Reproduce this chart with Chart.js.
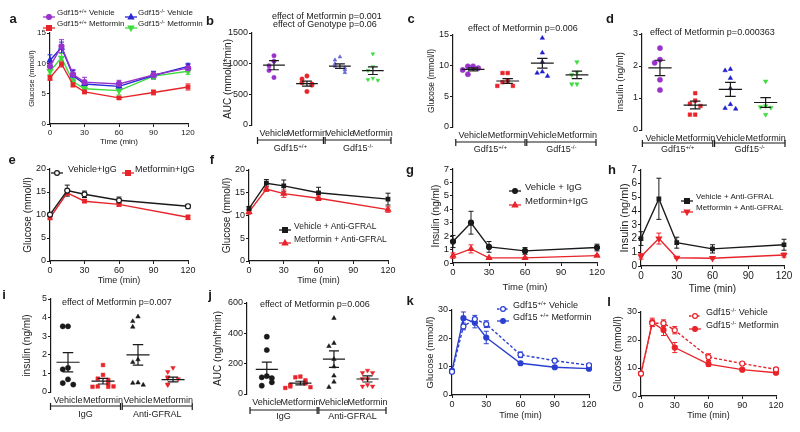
<!DOCTYPE html>
<html>
<head>
<meta charset="utf-8">
<script src="https://cdn.jsdelivr.net/npm/chart.js@4.4.1/dist/chart.umd.min.js"></script>
<style>
  body { margin: 0; width: 800px; height: 432px; position: relative; overflow: hidden; background: #fff;
         font-family: "Liberation Sans", Arial, sans-serif; color: #1a1a1a; }
  canvas { position: absolute; left: 0; top: 0; }
  .t { position: absolute; white-space: nowrap; line-height: 1; }
  sup { font-size: 68%; vertical-align: 0; position: relative; top: -0.45em; line-height: 0; }
</style>
</head>
<body>
<script>
// ---- data ----
// a: glucose tolerance, Gdf15 genotypes +/- metformin
const aTime = [0, 10, 20, 30, 60, 90, 120];
const aWtVeh = [9.5, 12.8, 8.2, 6.9, 6.6, 8.1, 9.2];
const aWtVehSem = [0.6, 1.1, 0.8, 0.8, 0.6, 0.6, 0.6];
const aWtMet = [7.6, 9.9, 6.5, 5.3, 4.3, 5.2, 6.1];
const aWtMetSem = [0.4, 0.5, 0.4, 0.3, 0.2, 0.4, 0.5];
const aKoVeh = [10.5, 12.6, 8.0, 6.6, 6.2, 8.0, 9.5];
const aKoVehSem = [0.9, 0.9, 0.8, 0.5, 0.6, 0.6, 0.5];
const aKoMet = [8.7, 10.9, 7.0, 5.8, 5.5, 7.9, 8.7];
const aKoMetSem = [0.5, 0.7, 0.5, 0.4, 0.7, 0.5, 0.5];

// b, c, d: dot plots by genotype
const gdfCats = ['Vehicle', 'Metformin', 'Vehicle', 'Metformin'];
const gdfGroups = ['Gdf15<sup>+/+</sup>', 'Gdf15<sup>-/-</sup>'];
const bWtVeh = [1130, 1040, 965, 890, 775];
const bWtMet = [800, 750, 690, 670, 650, 545];
const bKoVeh = [1110, 1060, 1000, 960, 930, 900, 855];
const bKoMet = [1160, 950, 890, 760, 740, 730];
const bMean = [976, 675, 960, 885];
const bSem = [75, 40, 38, 62];

const cWtVeh = [9.9, 9.9, 9.6, 9.3, 8.6];
const cWtMet = [8.8, 8.8, 7.5, 7.3, 6.7, 6.7];
const cKoVeh = [14.5, 12.1, 10.6, 9.0, 8.8, 8.3];
const cKoMet = [10.6, 8.9, 8.5, 7.0, 7.0];
const cMean = [9.4, 7.5, 10.4, 8.5];
const cSem = [0.25, 0.4, 0.8, 0.6];

const dWtVeh = [2.56, 2.2, 2.1, 1.57, 1.25];
const dWtMet = [1.15, 0.92, 0.82, 0.75, 0.48, 0.48];
const dKoVeh = [1.9, 1.86, 1.62, 1.3, 0.8, 0.68, 0.66];
const dKoMet = [1.52, 0.75, 0.72, 0.7, 0.48];
const dMean = [1.94, 0.78, 1.27, 0.86];
const dSem = [0.24, 0.12, 0.22, 0.15];

// e-h: time courses with IgG / anti-GFRAL
const ghTime = [0, 15, 30, 60, 120];
const eVeh = [10.1, 15.3, 14.5, 13.2, 11.9];
const eVehSem = [0.3, 1.2, 0.7, 0.7, 0.4];
const eMet = [9.4, 14.8, 13.0, 12.3, 9.5];
const eMetSem = [0.3, 0.5, 0.3, 0.4, 0.5];
const fVeh = [11.5, 17.1, 16.5, 15.0, 13.6];
const fVehSem = [0.5, 0.8, 1.3, 1.2, 1.3];
const fMet = [10.8, 15.8, 14.8, 13.8, 11.3];
const fMetSem = [0.5, 0.5, 0.8, 0.5, 0.6];
const gVeh = [1.6, 3.0, 1.2, 0.9, 1.15];
const gVehSem = [0.45, 0.85, 0.4, 0.25, 0.25];
const gMet = [0.55, 1.05, 0.38, 0.38, 0.55];
const gMetSem = [0.2, 0.3, 0.05, 0.05, 0.05];
const hVeh = [2.0, 4.9, 1.7, 1.25, 1.55];
const hVehSem = [0.5, 1.5, 0.4, 0.3, 0.4];
const hMet = [0.7, 2.0, 0.6, 0.57, 0.8];
const hMetSem = [0.2, 0.4, 0.05, 0.05, 0.15];

// i, j: dot plots by antibody
const iggCats = ['Vehicle', 'Metformin', 'Vehicle', 'Metformin'];
const iggGroups = ['IgG', 'Anti-GFRAL'];
const iIgVeh = [3.53, 3.53, 1.3, 1.22, 0.68, 0.48, 0.4];
const iIgMet = [1.45, 0.92, 0.72, 0.65, 0.45, 0.3, 0.28, 0.28, 0.3];
const iAgVeh = [4.05, 3.8, 3.5, 1.75, 1.6, 0.5, 0.48, 0.38];
const iAgMet = [1.3, 1.08, 0.8, 0.75, 0.7, 0.42, 0.38];
const iMean = [1.6, 0.58, 2.0, 0.67];
const iSem = [0.52, 0.15, 0.55, 0.13];
const jIgVeh = [378, 290, 118, 110, 105, 77, 55];
const jIgMet = [115, 110, 90, 75, 70, 60, 50, 45, 40];
const jAgVeh = [500, 335, 315, 230, 180, 120, 80, 45];
const jAgMet = [155, 140, 140, 100, 100, 60, 50, 50];
const jMean = [162, 72, 230, 99];
const jSem = [48, 12, 55, 20];

// k, l: glucose tolerance, second cohort
const klTime = [0, 10, 20, 30, 60, 90, 120];
const kVeh = [8.2, 24.2, 26.8, 25.0, 14.2, 12.1, 10.5];
const kVehSem = [0.5, 1.2, 1.3, 1.2, 1.0, 0.6, 0.6];
const kMet = [8.5, 27.1, 25.5, 20.3, 11.2, 9.8, 9.3];
const kMetSem = [0.6, 2.2, 1.8, 2.2, 0.5, 0.4, 0.5];
const lVeh = [8.0, 26.0, 26.0, 23.5, 13.9, 11.6, 9.5];
const lVehSem = [0.4, 1.2, 1.2, 1.3, 1.2, 0.5, 0.5];
const lMet = [8.0, 26.3, 23.6, 17.3, 11.4, 9.4, 8.3];
const lMetSem = [0.4, 1.5, 2.0, 1.8, 0.8, 0.4, 0.4];

// ---- styles ----
const ink = '#1a1a1a';
const purple = '#9932cc', red = '#e8242b', blue = '#2929d6', green = '#3ddc3d';
const lightBlue = '#6666d8', kBlue = '#2b3fd0';

Chart.defaults.font.family = '"Liberation Sans", Arial, sans-serif';
Chart.defaults.color = ink;

// error bars on time courses
const errorBars = {
  id: 'errorBars',
  beforeDatasetsDraw(chart) {
    const ctx = chart.ctx, ys = chart.scales.y;
    chart.data.datasets.forEach((ds, i) => {
      if (!ds.errors) return;
      const meta = chart.getDatasetMeta(i);
      ctx.save();
      ctx.strokeStyle = ds.borderColor;
      ctx.lineWidth = 1;
      meta.data.forEach((pt, j) => {
        const v = ds.data[j].y, e = ds.errors[j];
        const y1 = ys.getPixelForValue(v + e), y2 = ys.getPixelForValue(v - e);
        ctx.beginPath();
        ctx.moveTo(pt.x, y1); ctx.lineTo(pt.x, y2);
        ctx.moveTo(pt.x - 2.5, y1); ctx.lineTo(pt.x + 2.5, y1);
        ctx.moveTo(pt.x - 2.5, y2); ctx.lineTo(pt.x + 2.5, y2);
        ctx.stroke();
      });
      ctx.restore();
    });
  }
};

// mean +/- SEM on dot plots
const meanSem = {
  id: 'meanSem',
  afterDatasetsDraw(chart) {
    const ctx = chart.ctx, xs = chart.scales.x, ys = chart.scales.y;
    chart.data.datasets.forEach(ds => {
      if (ds.mean === undefined) return;
      const px = v => xs.getPixelForValue(ds.group + v);
      const m = ys.getPixelForValue(ds.mean);
      const hi = ys.getPixelForValue(ds.mean + ds.sem), lo = ys.getPixelForValue(ds.mean - ds.sem);
      ctx.save();
      ctx.strokeStyle = ink;
      ctx.lineWidth = 1.2;
      ctx.beginPath();
      ctx.moveTo(px(-0.33), m); ctx.lineTo(px(0.33), m);
      ctx.moveTo(px(0), hi); ctx.lineTo(px(0), lo);
      ctx.moveTo(px(-0.15), hi); ctx.lineTo(px(0.15), hi);
      ctx.moveTo(px(-0.15), lo); ctx.lineTo(px(0.15), lo);
      ctx.stroke();
      ctx.restore();
    });
  }
};

// group brackets under the category labels
const brackets = {
  id: 'brackets',
  afterDraw(chart, args, opts) {
    if (!opts || !opts.spans) return;
    const ctx = chart.ctx, xs = chart.scales.x;
    const y = chart.chartArea.bottom + opts.offset;
    ctx.save();
    ctx.strokeStyle = ink;
    ctx.lineWidth = 1.2;
    opts.spans.forEach(([a, b]) => {
      const x1 = xs.getPixelForValue(a), x2 = xs.getPixelForValue(b);
      ctx.beginPath();
      ctx.moveTo(x1, y); ctx.lineTo(x2, y);
      ctx.moveTo(x1, y - 3); ctx.lineTo(x1, y + 4);
      ctx.moveTo(x2, y - 3); ctx.lineTo(x2, y + 4);
      ctx.stroke();
    });
    ctx.restore();
  }
};
Chart.register(errorBars, meanSem, brackets);

// ---- helpers ----
function txt(html, x, y, o = {}) {
  const d = document.createElement('div');
  d.className = 't';
  d.innerHTML = html;
  d.style.left = x + 'px';
  d.style.top = y + 'px';
  d.style.fontSize = (o.size || 9) + 'px';
  if (o.bold) d.style.fontWeight = 'bold';
  d.style.transform = o.center ? 'translate(-50%,-50%)' : 'translate(0,-50%)';
  document.body.appendChild(d);
}

function marker(shape, color, open, cx, cy, r) {
  const st = `fill="${open ? '#fff' : color}" stroke="${color}" stroke-width="1.2"`;
  if (shape === 'circle') return `<circle cx="${cx}" cy="${cy}" r="${r}" ${st}/>`;
  if (shape === 'rect') return `<rect x="${cx - r}" y="${cy - r}" width="${2 * r}" height="${2 * r}" ${st}/>`;
  if (shape === 'tri') return `<polygon points="${cx},${cy - r * 1.2} ${cx + r * 1.1},${cy + r * 0.8} ${cx - r * 1.1},${cy + r * 0.8}" ${st}/>`;
  return `<polygon points="${cx},${cy + r * 1.2} ${cx + r * 1.1},${cy - r * 0.8} ${cx - r * 1.1},${cy - r * 0.8}" ${st}/>`;
}

function key(x, y, s, html, size, tx) {
  const h = 6;
  const d = document.createElement('div');
  d.style.cssText = `position:absolute;left:${x - h - 1}px;top:${y - 5}px;width:${2 * h + 2}px;height:10px`;
  d.innerHTML = `<svg width="${2 * h + 2}" height="10"><line x1="1" y1="5" x2="${2 * h + 1}" y2="5" stroke="${s.color}" stroke-width="1.3"${s.dash ? ' stroke-dasharray="2.5,1.5"' : ''}/>${marker(s.shape, s.color, s.open, h + 1, 5, 2.4)}</svg>`;
  document.body.appendChild(d);
  txt(html, tx, y, { size: size });
}

function newCanvas() {
  const c = document.createElement('canvas');
  c.width = 800; c.height = 432;
  c.style.width = '800px'; c.style.height = '432px';
  document.body.appendChild(c);
  return c;
}

function geo(o) {
  o.fs = o.fs || 9;
  o.ts = o.ts || o.fs;
  o.yW = o.L - o.yTitleX + o.ts * 0.6;
  o.xH = o.xTitleY ? o.xTitleY - o.B + o.fs * 0.6 : 16;
  return o;
}

const axisGrid = { drawOnChartArea: false, drawTicks: true, tickLength: 3, color: ink, lineWidth: 1 };
const axisBorder = { display: true, color: ink, width: 1.2 };

function yAxis(g, max, step, title) {
  return {
    min: 0, max: max,
    ticks: { stepSize: step, autoSkip: false, font: { size: g.fs }, color: ink, padding: 1, callback: v => String(v) },
    grid: axisGrid, border: axisBorder,
    title: { display: true, text: title, font: { size: g.ts }, color: ink, padding: 0 },
    afterFit: s => { s.width = g.yW; }
  };
}

function baseOptions(g, scales, br) {
  return {
    responsive: false, animation: false, events: [],
    layout: { autoPadding: false, padding: { left: g.L - g.yW, top: g.T, right: 800 - g.R, bottom: 432 - g.B - g.xH } },
    plugins: { legend: { display: false }, tooltip: { enabled: false }, brackets: br || {} },
    scales: scales
  };
}

const ptStyle = s => (s.shape === 'tri' || s.shape === 'inv') ? 'triangle' : s.shape;

function linePanel(g, times, series, yMax, yStep, yTitle) {
  new Chart(newCanvas(), {
    type: 'line',
    data: {
      datasets: series.map(s => ({
        data: times.map((t, i) => ({ x: t, y: s.v[i] })),
        errors: s.err,
        borderColor: s.color, borderWidth: 1.4, borderDash: s.dash ? [3, 2] : [],
        pointStyle: ptStyle(s), pointRotation: s.shape === 'inv' ? 180 : 0,
        pointRadius: s.shape === 'tri' || s.shape === 'inv' ? 3 : 2.5,
        pointBackgroundColor: s.open ? '#fff' : s.color, pointBorderColor: s.color, pointBorderWidth: 1.2,
        tension: 0, clip: false
      }))
    },
    options: baseOptions(g, {
      x: {
        type: 'linear', min: 0, max: 120,
        ticks: { stepSize: 30, autoSkip: false, font: { size: g.fs }, color: ink, padding: 1 },
        grid: axisGrid, border: axisBorder,
        title: { display: true, text: 'Time (min)', font: { size: g.fs }, color: ink, padding: 0 },
        afterFit: s => { s.height = g.xH; }
      },
      y: yAxis(g, yMax, yStep, yTitle)
    })
  });
}

// spread points of similar value sideways, like a dot plot
function swarm(values, range, group) {
  const placed = [];
  return values.map(v => {
    const near = placed.filter(p => Math.abs(p - v) < range * 0.06).length;
    placed.push(v);
    const k = [0, -1, 1, -2, 2, -3, 3][near] || 0;
    return { x: group + k * 0.15, y: v };
  });
}

function dotPanel(g, cats, groupNames, sets, yMax, yStep, yTitle, br) {
  const chart = new Chart(newCanvas(), {
    type: 'scatter',
    data: {
      datasets: sets.map((s, i) => ({
        data: swarm(s.v, yMax, i + 1),
        group: i + 1, mean: s.mean, sem: s.sem,
        pointStyle: ptStyle(s), pointRotation: s.shape === 'inv' ? 180 : 0,
        pointRadius: g.r || 2.6, pointBackgroundColor: s.color, pointBorderColor: s.color,
        pointBorderWidth: 0.5, clip: false
      }))
    },
    options: baseOptions(g, {
      x: {
        type: 'linear', min: g.xMin, max: g.xMax,
        afterBuildTicks: s => { s.ticks = cats.map((_, i) => ({ value: i + 1 })); },
        ticks: { autoSkip: false, maxRotation: 0, minRotation: 0, padding: 3, font: { size: g.fs }, color: ink,
                 callback: (v, i) => cats[i] },
        grid: { display: false, drawTicks: false, tickLength: 0 }, border: { display: false },
        afterFit: s => { s.height = g.xH; }
      },
      y: yAxis(g, yMax, yStep, yTitle)
    }, { spans: [[0.5, 2.5], [2.55, 4.55]], offset: br.offset })
  });
  const xs = chart.scales.x;
  txt(groupNames[0], xs.getPixelForValue(1.5), g.B + br.label, { center: true, size: g.fs });
  txt(groupNames[1], xs.getPixelForValue(3.55), g.B + br.label, { center: true, size: g.fs });
}

// ---- panel a ----
const sWtVeh = { color: purple, shape: 'circle' };
const sWtMet = { color: red, shape: 'rect' };
const sKoVeh = { color: blue, shape: 'tri' };
const sKoMet = { color: green, shape: 'inv' };
linePanel(geo({ L: 50, R: 188, T: 33, B: 124, yTitleX: 32, xTitleY: 142, fs: 8, ts: 7.5 }), aTime, [
  Object.assign({ v: aWtVeh, err: aWtVehSem }, sWtVeh),
  Object.assign({ v: aWtMet, err: aWtMetSem }, sWtMet),
  Object.assign({ v: aKoVeh, err: aKoVehSem }, sKoVeh),
  Object.assign({ v: aKoMet, err: aKoMetSem }, sKoMet)
], 15, 5, 'Glucose (mmol/l)');
key(49, 13, sWtVeh, 'Gdf15<sup>+/+</sup> Vehicle', 8, 57);
key(49, 24, sWtMet, 'Gdf15<sup>+/+</sup> Metformin', 8, 57);
key(131, 13, sKoVeh, 'Gdf15<sup>-/-</sup> Vehicle', 8, 138);
key(131, 24, sKoMet, 'Gdf15<sup>-/-</sup> Metformin', 8, 138);

// ---- panels b, c, d ----
dotPanel(geo({ L: 252, R: 391, T: 33, B: 125, yTitleX: 228, ts: 10, xMin: 0.333, xMax: 4.55, r: 2.2 }), gdfCats, gdfGroups, [
  { v: bWtVeh, mean: bMean[0], sem: bSem[0], color: purple, shape: 'circle' },
  { v: bWtMet, mean: bMean[1], sem: bSem[1], color: red, shape: 'circle' },
  { v: bKoVeh, mean: bMean[2], sem: bSem[2], color: lightBlue, shape: 'tri' },
  { v: bKoMet, mean: bMean[3], sem: bSem[3], color: green, shape: 'inv' }
], 1500, 500, 'AUC (mmol/l*min)', { offset: 15, label: 23 });
txt('effect of Metformin p=0.001', 272, 16);
txt('effect of Genotype p=0.06', 273, 24);

dotPanel(geo({ L: 453, R: 596, T: 35, B: 127, yTitleX: 432, ts: 8.5, xMin: 0.42, xMax: 4.55 }), gdfCats, gdfGroups, [
  { v: cWtVeh, mean: cMean[0], sem: cSem[0], color: purple, shape: 'circle' },
  { v: cWtMet, mean: cMean[1], sem: cSem[1], color: red, shape: 'rect' },
  { v: cKoVeh, mean: cMean[2], sem: cSem[2], color: '#1f1fcf', shape: 'tri' },
  { v: cKoMet, mean: cMean[3], sem: cSem[3], color: green, shape: 'inv' }
], 15, 5, 'Glucose (mmol/l)', { offset: 15, label: 22 });
txt('effect of Metformin p=0.006', 468, 28);

dotPanel(geo({ L: 642, R: 785, T: 34, B: 130, yTitleX: 620, ts: 9.5, xMin: 0.49, xMax: 4.55 }), gdfCats, gdfGroups, [
  { v: dWtVeh, mean: dMean[0], sem: dSem[0], color: purple, shape: 'circle' },
  { v: dWtMet, mean: dMean[1], sem: dSem[1], color: red, shape: 'rect' },
  { v: dKoVeh, mean: dMean[2], sem: dSem[2], color: '#1f1fcf', shape: 'tri' },
  { v: dKoMet, mean: dMean[3], sem: dSem[3], color: green, shape: 'inv' }
], 3, 1, 'Insulin (ng/ml)', { offset: 13, label: 19 });
txt('effect of Metformin p=0.000363', 650, 32);

// ---- panels e-h ----
const sEVeh = { color: ink, shape: 'circle', open: true };
const sEMet = { color: red, shape: 'rect' };
linePanel(geo({ L: 50, R: 188, T: 169, B: 261, yTitleX: 28, xTitleY: 281, ts: 10 }), ghTime, [
  Object.assign({ v: eVeh, err: eVehSem }, sEVeh),
  Object.assign({ v: eMet, err: eMetSem }, sEMet)
], 20, 5, 'Glucose (mmol/l)');
key(57, 169, sEVeh, 'Vehicle+IgG', 9, 68);
key(128, 169, sEMet, 'Metformin+IgG', 9, 135);

const sFVeh = { color: ink, shape: 'rect' };
const sFMet = { color: red, shape: 'tri' };
linePanel(geo({ L: 249, R: 388, T: 170, B: 261, yTitleX: 227, xTitleY: 281, ts: 10 }), ghTime, [
  Object.assign({ v: fVeh, err: fVehSem }, sFVeh),
  Object.assign({ v: fMet, err: fMetSem }, sFMet)
], 20, 5, 'Glucose (mmol/l)');
key(285, 226, sFVeh, 'Vehicle + Anti-GFRAL', 8.5, 294);
key(285, 239, sFMet, 'Metformin + Anti-GFRAL', 8.5, 294);

const sGVeh = { color: ink, shape: 'circle' };
const sGMet = { color: red, shape: 'tri' };
linePanel(geo({ L: 453, R: 597, T: 169, B: 263, yTitleX: 436, xTitleY: 287, fs: 9.5, ts: 10 }), ghTime, [
  Object.assign({ v: gVeh, err: gVehSem }, sGVeh),
  Object.assign({ v: gMet, err: gMetSem }, sGMet)
], 7, 1, 'Insulin (ng/ml)');
key(515, 187, sGVeh, 'Vehicle + IgG', 9.5, 525);
key(515, 201, sGMet, 'Metformin+IgG', 9.5, 525);

const sHVeh = { color: ink, shape: 'rect' };
const sHMet = { color: red, shape: 'inv' };
linePanel(geo({ L: 641, R: 784, T: 170, B: 266, yTitleX: 625, xTitleY: 289, fs: 10, ts: 11 }), ghTime, [
  Object.assign({ v: hVeh, err: hVehSem }, sHVeh),
  Object.assign({ v: hMet, err: hMetSem }, sHMet)
], 7, 1, 'Insulin (ng/ml)');
key(687, 197, sHVeh, 'Vehicle + Anti-GFRAL', 8, 696);
key(687, 208, sHMet, 'Metformin + Anti-GFRAL', 8, 696);

// ---- panels i, j ----
dotPanel(geo({ L: 51, R: 194, T: 299, B: 392, yTitleX: 27, ts: 10, xMin: 0.514, xMax: 4.6 }), iggCats, iggGroups, [
  { v: iIgVeh, mean: iMean[0], sem: iSem[0], color: ink, shape: 'circle' },
  { v: iIgMet, mean: iMean[1], sem: iSem[1], color: red, shape: 'rect' },
  { v: iAgVeh, mean: iMean[2], sem: iSem[2], color: ink, shape: 'tri' },
  { v: iAgMet, mean: iMean[3], sem: iSem[3], color: red, shape: 'inv' }
], 5, 1, 'insulin (ng/ml)', { offset: 14, label: 22 });
txt('effect of Metformin p=0.007', 62, 302);

dotPanel(geo({ L: 247, R: 386, T: 303, B: 394, yTitleX: 218, ts: 10, xMin: 0.41, xMax: 4.55 }), iggCats, iggGroups, [
  { v: jIgVeh, mean: jMean[0], sem: jSem[0], color: ink, shape: 'circle' },
  { v: jIgMet, mean: jMean[1], sem: jSem[1], color: red, shape: 'rect' },
  { v: jAgVeh, mean: jMean[2], sem: jSem[2], color: ink, shape: 'tri' },
  { v: jAgMet, mean: jMean[3], sem: jSem[3], color: red, shape: 'inv' }
], 600, 200, 'AUC (ng/ml*min)', { offset: 16, label: 22 });
txt('effect of Metformin p=0.006', 260, 304);

// ---- panels k, l ----
const sKVeh = { color: kBlue, shape: 'circle', open: true, dash: true };
const sKMet = { color: kBlue, shape: 'circle' };
linePanel(geo({ L: 452, R: 589, T: 310, B: 395, yTitleX: 430, xTitleY: 416, ts: 9.5 }), klTime, [
  Object.assign({ v: kVeh, err: kVehSem }, sKVeh),
  Object.assign({ v: kMet, err: kMetSem }, sKMet)
], 30, 10, 'Glucose (mmol/l)');
key(503, 305, sKVeh, 'Gdf15<sup>+/+</sup> Vehicle', 9, 513);
key(503, 317, sKMet, 'Gdf15 <sup>+/+</sup> Metformin', 9, 513);

const sLVeh = { color: red, shape: 'circle', open: true, dash: true };
const sLMet = { color: red, shape: 'circle' };
linePanel(geo({ L: 641, R: 776, T: 312, B: 396, yTitleX: 618, xTitleY: 416, ts: 10 }), klTime, [
  Object.assign({ v: lVeh, err: lVehSem }, sLVeh),
  Object.assign({ v: lMet, err: lMetSem }, sLMet)
], 30, 10, 'Glucose (mmol/l)');
key(695, 312, sLVeh, 'Gdf15<sup>-/-</sup>  Vehicle', 9, 706);
key(695, 325, sLMet, 'Gdf15<sup>-/-</sup>  Metformin', 9, 706);

// ---- panel letters ----
[['a', 13, 18], ['b', 210, 20], ['c', 411, 18], ['d', 610, 18],
 ['e', 12, 159], ['f', 212, 159], ['g', 410, 169], ['h', 612, 169],
 ['i', 4, 294], ['j', 210, 294], ['k', 410, 300], ['l', 609, 301]]
  .forEach(([s, x, y]) => txt(s, x, y, { bold: true, size: 13, center: true }));
</script>
</body>
</html>
